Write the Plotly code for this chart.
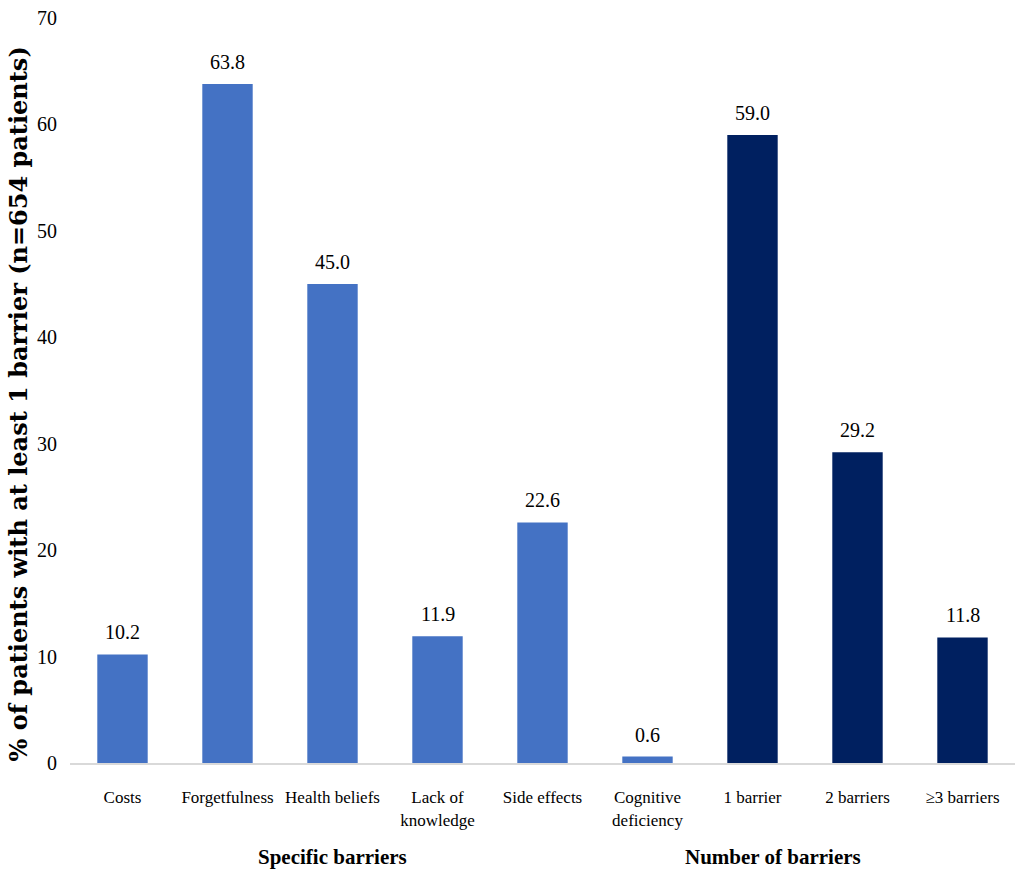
import plotly.graph_objects as go

# barrier categories and share of patients (%)
categories = ["Costs", "Forgetfulness", "Health beliefs", "Lack of<br>knowledge",
              "Side effects", "Cognitive<br>deficiency", "1 barrier", "2 barriers",
              "≥3 barriers"]
values = [10.2, 63.8, 45.0, 11.9, 22.6, 0.6, 59.0, 29.2, 11.8]
groups = ["specific"] * 6 + ["number"] * 3

color_map = {"specific": "#4472C4", "number": "#002060"}
bar_colors = [color_map[g] for g in groups]

FONT = "Liberation Serif"

fig = go.Figure()
fig.add_trace(go.Bar(
    x=categories,
    y=values,
    marker=dict(color=bar_colors, line=dict(width=0)),
    width=0.48,
    hoverinfo="x+y",
))

# value labels above the bars
for cat, val in zip(categories, values):
    fig.add_annotation(x=cat, y=val, text=f"{val:.1f}", showarrow=False,
                       yanchor="bottom", yshift=9,
                       font=dict(family=FONT, size=20, color="#000000"))

fig.update_layout(
    width=1020, height=876,
    margin=dict(l=70, r=5, t=18, b=113),
    plot_bgcolor="white",
    paper_bgcolor="white",
    showlegend=False,
    font=dict(family=FONT, size=18, color="#000000"),
    xaxis=dict(
        type="category",
        showline=True, linecolor="#d9d9d9", linewidth=2,
        ticks="", showgrid=False, ticklabelstandoff=18,
        tickfont=dict(family=FONT, size=17, color="#000000"),
    ),
    yaxis=dict(
        range=[0, 70], dtick=10,
        showgrid=False, zeroline=False, showline=False,
        ticks="", ticklabelstandoff=12,
        tickfont=dict(family=FONT, size=20, color="#000000"),
    ),
)

# y axis title
fig.add_annotation(x=0, y=0.5, xref="paper", yref="paper",
                   xanchor="center", yanchor="middle",
                   xshift=-52, yshift=-14, textangle=-90,
                   text="<b>% of patients with at least 1 barrier (n=654 patients)</b>",
                   showarrow=False,
                   font=dict(family="DejaVu Serif", size=24, color="#000000"))

# group labels under the axis
fig.add_annotation(x=0.197, y=-0.126, xref="paper", yref="paper",
                   yanchor="middle",
                   text="<b>Specific barriers</b>", showarrow=False,
                   font=dict(family=FONT, size=21, color="#000000"))
fig.add_annotation(x=0.839, y=-0.126, xref="paper", yref="paper",
                   yanchor="middle",
                   text="<b>Number of barriers</b>", showarrow=False,
                   font=dict(family=FONT, size=21, color="#000000"))

# drop the default 8px page margin so the figure sits at the window corner
fig.write_html("out.html", config={"displayModeBar": False},
               post_script="document.body.style.margin='0';")
